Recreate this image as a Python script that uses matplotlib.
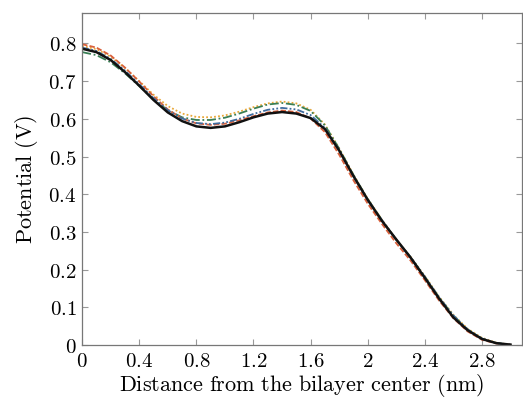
import matplotlib
matplotlib.use("Agg")
import matplotlib.pyplot as plt
from matplotlib.ticker import FuncFormatter, MultipleLocator

plt.rcParams['mathtext.fontset'] = 'cm'

# distance from the bilayer center (nm)
dist = [0.0, 0.1, 0.2, 0.3, 0.4, 0.5, 0.6, 0.7, 0.8, 0.9, 1.0,
        1.1, 1.2, 1.3, 1.4, 1.5, 1.6, 1.7, 1.8, 1.9, 2.0,
        2.1, 2.2, 2.3, 2.4, 2.5, 2.6, 2.7, 2.8, 2.9, 3.0]

pot_red = [0.798, 0.789, 0.768, 0.736, 0.699, 0.660, 0.625, 0.601, 0.588, 0.584, 0.587,
           0.596, 0.607, 0.617, 0.622, 0.618, 0.601, 0.565, 0.505, 0.437, 0.375,
           0.321, 0.270, 0.224, 0.172, 0.118, 0.071, 0.036, 0.014, 0.004, 0.001]
pot_yellow = [0.793, 0.785, 0.765, 0.735, 0.700, 0.664, 0.634, 0.614, 0.605, 0.604, 0.609,
              0.619, 0.631, 0.641, 0.646, 0.641, 0.624, 0.585, 0.522, 0.452, 0.388,
              0.332, 0.280, 0.234, 0.183, 0.128, 0.080, 0.043, 0.019, 0.006, 0.001]
pot_green = [0.777, 0.769, 0.750, 0.721, 0.687, 0.652, 0.623, 0.604, 0.597, 0.597, 0.603,
             0.614, 0.627, 0.638, 0.642, 0.637, 0.621, 0.583, 0.521, 0.451, 0.387,
             0.331, 0.279, 0.233, 0.181, 0.126, 0.078, 0.041, 0.017, 0.005, 0.001]
pot_blue = [0.789, 0.780, 0.759, 0.728, 0.692, 0.655, 0.623, 0.601, 0.589, 0.586, 0.590,
            0.600, 0.613, 0.624, 0.629, 0.625, 0.610, 0.576, 0.517, 0.449, 0.386,
            0.331, 0.279, 0.233, 0.181, 0.126, 0.078, 0.041, 0.017, 0.005, 0.001]
pot_black = [0.786, 0.777, 0.756, 0.724, 0.688, 0.650, 0.617, 0.594, 0.580, 0.576, 0.580,
             0.591, 0.604, 0.614, 0.618, 0.614, 0.602, 0.573, 0.516, 0.448, 0.385,
             0.329, 0.280, 0.232, 0.178, 0.123, 0.073, 0.039, 0.016, 0.005, 0.001]

fig = plt.figure(figsize=(5.23, 3.99), dpi=100)
ax = fig.add_axes([0.157, 0.1353, 0.841, 0.8314])

ax.plot(dist, pot_yellow, color='#e9a83a', lw=1.3, ls=(0, (1, 1.2)))
ax.plot(dist, pot_green, color='#3a7f55', lw=1.3, ls=(0, (5, 1.5, 1, 1.5)))
ax.plot(dist, pot_red, color='#d9603b', lw=1.3, ls=(0, (3, 1.2)))
ax.plot(dist, pot_blue, color='#3f6c9e', lw=1.3, ls=(0, (4, 1.2, 1, 1.2, 1, 1.2)))
ax.plot(dist, pot_black, color='#111111', lw=1.8)

ax.set_xlim(0, 3.08)
ax.set_ylim(0, 0.88)
ax.xaxis.set_major_locator(MultipleLocator(0.4))
ax.yaxis.set_major_locator(MultipleLocator(0.1))
fmt = FuncFormatter(lambda v, p: '$%g$' % round(v, 2))
ax.xaxis.set_major_formatter(fmt)
ax.yaxis.set_major_formatter(fmt)

for s in ax.spines.values():
    s.set_color('#777777')
    s.set_linewidth(0.9)
ax.tick_params(direction='in', top=True, right=True, length=4, width=0.8,
               color='#999999', labelsize=15, pad=4)

ax.set_xlabel(r'$\mathrm{Distance\ from\ the\ bilayer\ center\ (nm)}$', fontsize=16, labelpad=1)
ax.set_ylabel(r'$\mathrm{Potential\ (V)}$', fontsize=16, labelpad=6)

fig.savefig('out.png', dpi=100)
